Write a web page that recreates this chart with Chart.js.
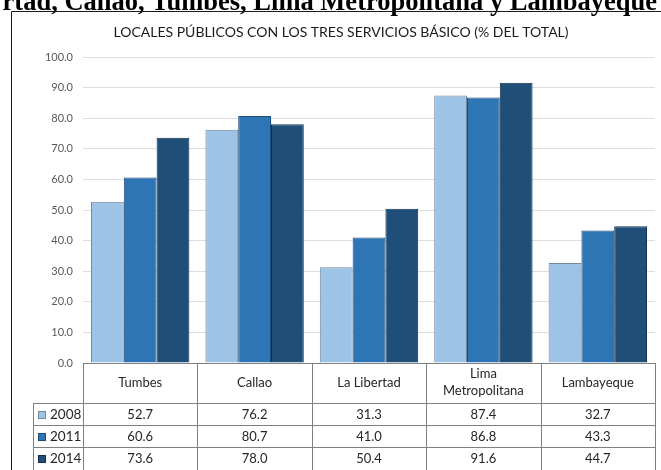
<!DOCTYPE html>
<html>
<head>
<meta charset="utf-8">
<script src="https://cdn.jsdelivr.net/npm/chart.js@4.4.0/dist/chart.umd.min.js"></script>
<style>
    html, body { margin: 0; padding: 0; background: #fff; }
    canvas { display: block; }
</style>
</head>
<body>
<canvas id="chart" width="661" height="470"></canvas>
<script>
const pageHeading = "rtad, Callao, Tumbes, Lima Metropolitana y Lambayeque";
const chartTitle = "LOCALES PÚBLICOS CON LOS TRES SERVICIOS BÁSICO (% DEL TOTAL)";

const categories = ["Tumbes", "Callao", "La Libertad", ["Lima", "Metropolitana"], "Lambayeque"];
const years = ["2008", "2011", "2014"];

const values2008 = [52.7, 76.2, 31.3, 87.4, 32.7];
const values2011 = [60.6, 80.7, 41.0, 86.8, 43.3];
const values2014 = [73.6, 78.0, 50.4, 91.6, 44.7];

const yMin = 0;
const yMax = 100;
const yStep = 10;

const fillColors = ["#9dc3e6", "#2e75b6", "#1f4e79"];
const edgeColors = ["#7488a0", "#1d4c78", "#12304d"];

const seriesValues = [values2008, values2011, values2014];

const font = "Lato, 'Open Sans', sans-serif";

// titles, frame and the data table under the plot
const framePlugin = {
    id: 'frame',
    afterDraw(chart) {
        const ctx = chart.ctx;
        const area = chart.chartArea;
        const xs = chart.scales.x;
        const n = categories.length;
        const colW = (area.right - area.left) / n;

        ctx.save();

        // cropped page heading
        ctx.fillStyle = '#000';
        ctx.font = "bold 26.5px 'Liberation Serif', 'Times New Roman', serif";
        ctx.textAlign = 'right';
        ctx.textBaseline = 'alphabetic';
        ctx.fillText(pageHeading, 657, 10);

        // frame
        ctx.strokeStyle = '#1a1a1a';
        ctx.lineWidth = 1;
        ctx.beginPath();
        ctx.moveTo(11.5, 470);
        ctx.lineTo(11.5, 11.5);
        ctx.lineTo(661, 11.5);
        ctx.stroke();

        // chart title
        ctx.fillStyle = '#1a1a1a';
        ctx.font = "14px " + font;
        ctx.textAlign = 'center';
        ctx.textBaseline = 'middle';
        ctx.fillText(chartTitle, 341, 32);

        // table
        const top = Math.round(area.bottom);
        const headBottom = top + 40;
        const rowH = 22;
        const legendLeft = 33;
        const bottom = 470;

        ctx.strokeStyle = '#7f7f7f';
        ctx.beginPath();
        ctx.moveTo(area.left, top + 0.5);
        ctx.lineTo(area.right, top + 0.5);
        for (let r = 0; r < years.length; r++) {
            const y = headBottom + r * rowH + 0.5;
            ctx.moveTo(legendLeft, y);
            ctx.lineTo(area.right, y);
        }
        for (let i = 0; i <= n; i++) {
            const x = Math.round(area.left + i * colW) + 0.5;
            ctx.moveTo(x, top);
            ctx.lineTo(x, bottom);
        }
        ctx.moveTo(legendLeft + 0.5, headBottom);
        ctx.lineTo(legendLeft + 0.5, bottom);
        ctx.stroke();

        ctx.fillStyle = '#262626';
        ctx.font = "13px " + font;
        ctx.textAlign = 'center';
        for (let i = 0; i < n; i++) {
            const cx = xs.getPixelForValue(i);
            const label = categories[i];
            if (Array.isArray(label)) {
                ctx.fillText(label[0], cx, top + 11);
                ctx.fillText(label[1], cx, top + 28);
            } else {
                ctx.fillText(label, cx, top + 20);
            }
            for (let r = 0; r < years.length; r++) {
                const cy = headBottom + r * rowH + rowH / 2 + 1;
                ctx.fillText(seriesValues[r][i].toFixed(1), cx, cy);
            }
        }

        ctx.textAlign = 'left';
        for (let r = 0; r < years.length; r++) {
            const cy = headBottom + r * rowH + rowH / 2 + 1;
            ctx.fillStyle = fillColors[r];
            ctx.fillRect(38, cy - 4, 8, 8);
            ctx.strokeStyle = edgeColors[r];
            ctx.strokeRect(38.5, cy - 3.5, 7, 7);
            ctx.fillStyle = '#262626';
            ctx.font = "13.5px " + font;
            ctx.fillText(years[r], 50, cy);
        }

        ctx.restore();
    }
};

const datasets = years.map((year, i) => ({
    label: year,
    data: seriesValues[i],
    backgroundColor: fillColors[i],
    borderColor: edgeColors[i],
    borderWidth: 1,
    borderSkipped: 'bottom',
    categoryPercentage: 0.86,
    barPercentage: 1.0,
}));

const ctx = document.getElementById('chart').getContext('2d');
const chart = new Chart(ctx, {
    type: 'bar',
    data: {
        labels: categories,
        datasets: datasets,
    },
    options: {
        animation: false,
        responsive: false,
        devicePixelRatio: 1,
        layout: {
            padding: { left: 11, top: 57, right: 6, bottom: 107 },
        },
        scales: {
            x: {
                display: false,
            },
            y: {
                min: yMin,
                max: yMax,
                afterFit: (scale) => { scale.width = 72; },
                border: { display: false },
                grid: {
                    color: '#dedede',
                    drawTicks: false,
                },
                ticks: {
                    stepSize: yStep,
                    padding: 10,
                    color: '#595959',
                    font: { family: font, size: 11 },
                    callback: (v) => Number(v).toFixed(1),
                },
            },
        },
        plugins: {
            legend: { display: false },
            title: { display: false },
            tooltip: { enabled: false },
        },
    },
    plugins: [framePlugin],
});
</script>
</body>
</html>
